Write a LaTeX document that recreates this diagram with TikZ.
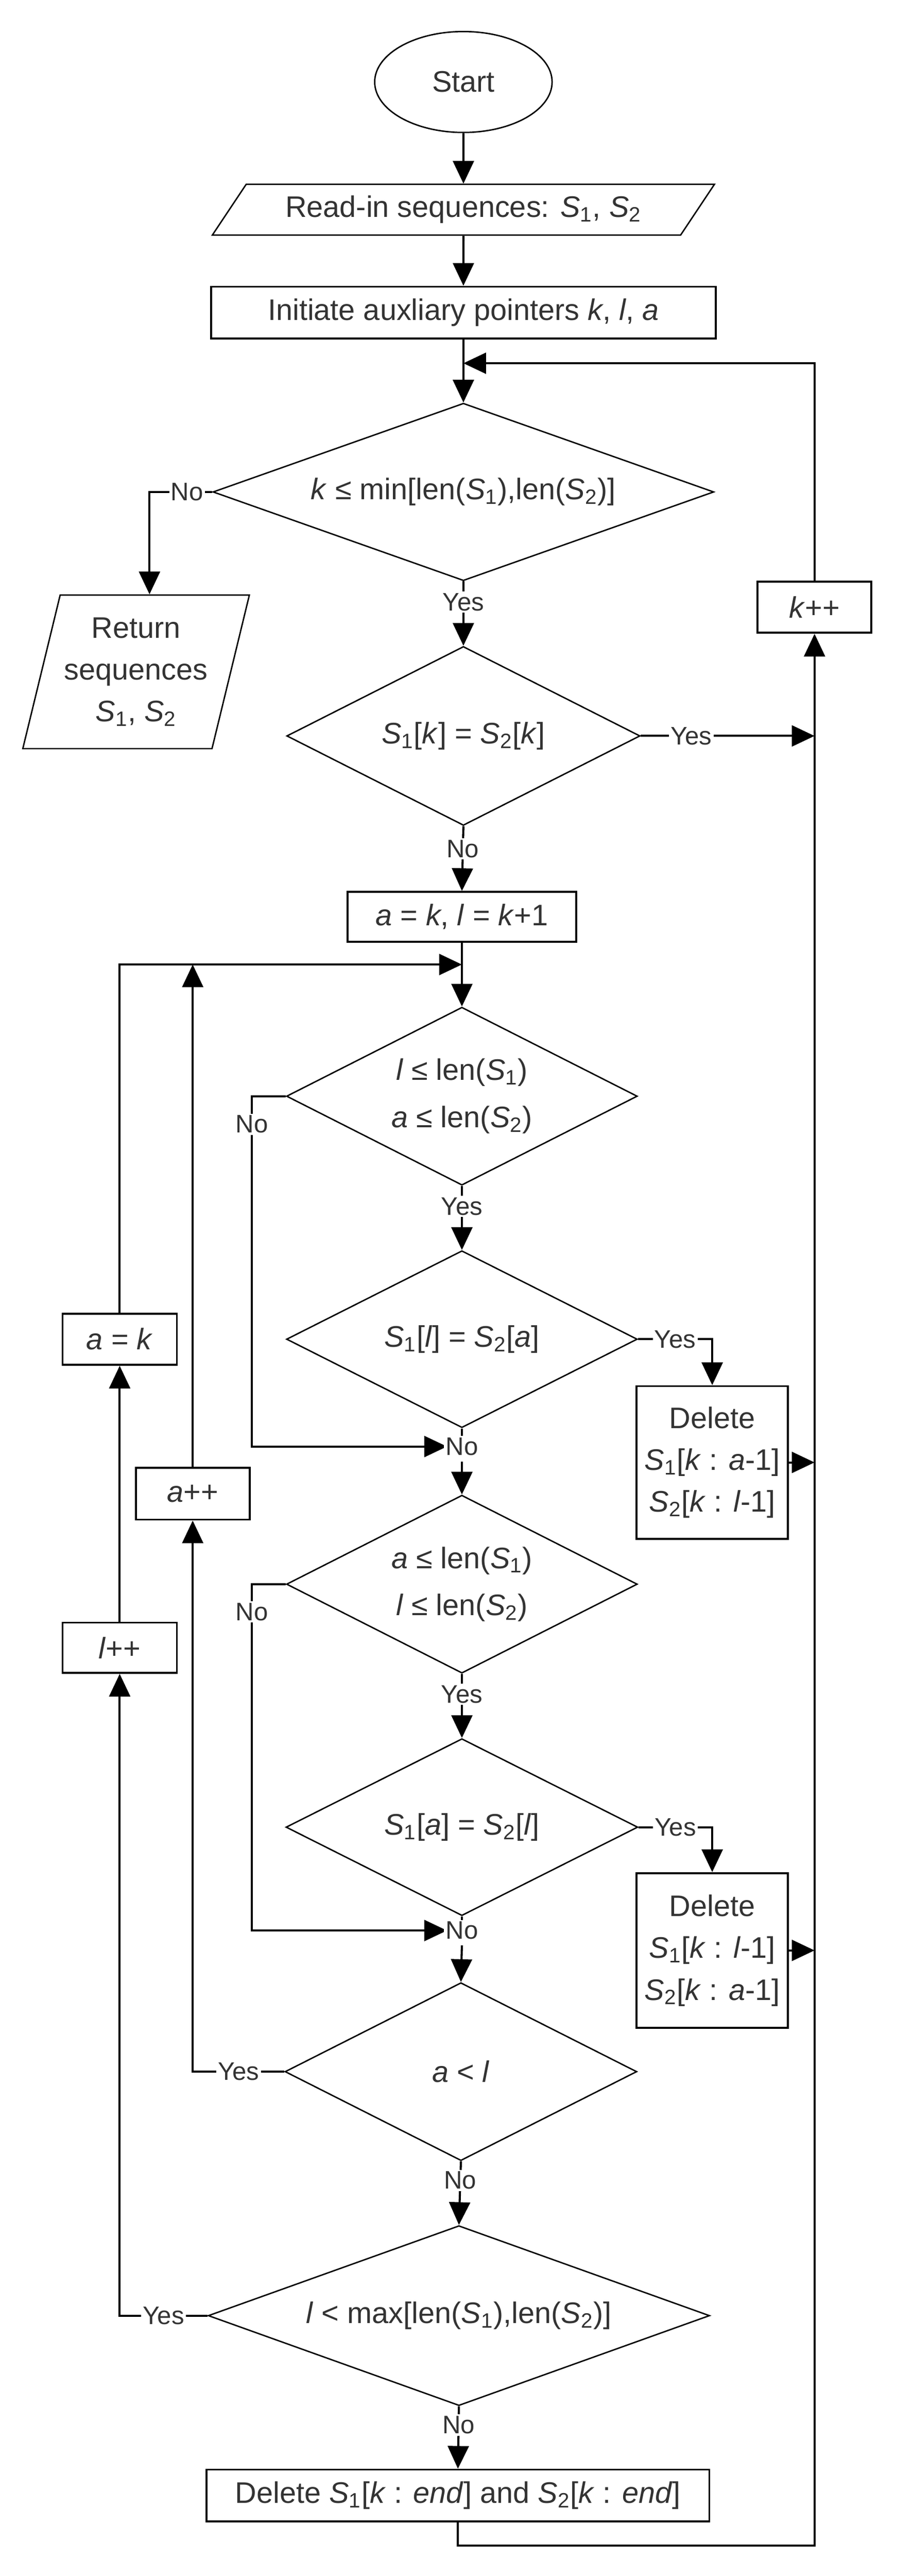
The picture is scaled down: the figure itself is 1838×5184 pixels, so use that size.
\documentclass[tikz,border=0pt]{standalone}
\usepackage{fontspec}
\setmainfont{Liberation Sans}
\usetikzlibrary{shapes.geometric,arrows.meta}
\newcommand\Sv[1]{\textit{S}\textsubscript{#1}}
\newcommand\vv[1]{\textit{#1}}
\begin{document}
\begin{tikzpicture}[x=0.01cm,y=-0.01cm,
  txt/.style={text=black!80,font=\fontsize{17}{24}\selectfont,align=center},
  box/.style={txt,draw,line width=1.1pt,inner sep=0pt},
  dia/.style={txt,diamond,draw,line width=0.8pt,inner sep=0pt,aspect=2.8},
  io/.style={txt,trapezium,draw,line width=0.8pt,inner sep=0pt,trapezium stretches=true},
  lbl/.style={fill=white,text=black!80,font=\fontsize{14.5}{16}\selectfont,inner sep=1pt},
  ln/.style={line width=1.2pt},
  arr/.style={ln,-{Triangle[length=13pt,width=12pt]}}]
\useasboundingbox (0,0) rectangle (1838,5184);

% nodes
\node[txt,ellipse,draw,line width=0.8pt,minimum width=3.57cm,minimum height=2.03cm,inner sep=0pt] (start) at (933,165) {Start};
\node[io,trapezium left angle=45,trapezium right angle=135,minimum width=10.11cm,minimum height=1.02cm] (read) at (933,422) {Read-in sequences: \Sv{1}, \Sv{2}};
\node[box,minimum width=10.16cm,minimum height=1.04cm] (init) at (933,629) {Initiate auxliary pointers \vv{k}, \vv{l}, \vv{a}};
\node[dia,minimum width=10.08cm,minimum height=3.57cm] (d1) at (933,990) {\vv{k} ≤ min[len(\Sv{1}),len(\Sv{2})]};
\node[io,trapezium left angle=72,trapezium right angle=108,minimum width=4.56cm,minimum height=3.09cm] (ret) at (274,1352) {Return\\sequences\\\Sv{1}, \Sv{2}};
\node[dia,minimum width=7.11cm,minimum height=3.6cm] (d2) at (933,1481) {\Sv{1}[\vv{k}] = \Sv{2}[\vv{k}]};
\node[box,minimum width=2.29cm,minimum height=1.03cm] (kpp) at (1640,1222) {\vv{k}++};
\node[box,minimum width=4.6cm,minimum height=1cm] (ak1) at (930,1845) {\vv{a} = \vv{k}, \vv{l} = \vv{k}+1};
\node[dia,minimum width=7.06cm,minimum height=3.58cm,font=\fontsize{17}{27}\selectfont] (d3) at (930,2206) {\vv{l} ≤ len(\Sv{1})\\\vv{a} ≤ len(\Sv{2})};
\node[dia,minimum width=7.06cm,minimum height=3.56cm] (d4) at (930,2695) {\Sv{1}[\vv{l}] = \Sv{2}[\vv{a}]};
\node[box,minimum width=3.05cm,minimum height=3.07cm] (del1) at (1434,2943) {Delete\\\Sv{1}[\vv{k} : \vv{a}-1]\\\Sv{2}[\vv{k} : \vv{l}-1]};
\node[box,minimum width=2.3cm,minimum height=1.03cm] (ak) at (241,2695) {\vv{a} = \vv{k}};
\node[box,minimum width=2.29cm,minimum height=1.04cm] (app) at (388,3006) {\vv{a}++};
\node[box,minimum width=2.3cm,minimum height=1.01cm] (lpp) at (241,3316) {\vv{l}++};
\node[dia,minimum width=7.06cm,minimum height=3.58cm,font=\fontsize{17}{27}\selectfont] (d5) at (930,3188) {\vv{a} ≤ len(\Sv{1})\\\vv{l} ≤ len(\Sv{2})};
\node[dia,minimum width=7.08cm,minimum height=3.56cm] (d6) at (930,3677) {\Sv{1}[\vv{a}] = \Sv{2}[\vv{l}]};
\node[box,minimum width=3.05cm,minimum height=3.11cm] (del2) at (1434,3925) {Delete\\\Sv{1}[\vv{k} : \vv{l}-1]\\\Sv{2}[\vv{k} : \vv{a}-1]};
\node[dia,minimum width=7.08cm,minimum height=3.58cm] (d7) at (928,4169) {\vv{a} < \vv{l}};
\node[dia,minimum width=10.09cm,minimum height=3.62cm] (d8) at (924,4660) {\vv{l} < max[len(\Sv{1}),len(\Sv{2})]};
\node[box,minimum width=10.12cm,minimum height=1.04cm] (fin) at (922,5022) {Delete \Sv{1}[\vv{k} : \vv{end}] and \Sv{2}[\vv{k} : \vv{end}]};

% junction points
\coordinate (m1) at (933,731);
\coordinate (cNo) at (301,990);
\coordinate (m2) at (930,1941);
\coordinate (m3) at (930,2911);
\coordinate (m4) at (930,3885);
\coordinate (n3) at (507,2206);
\coordinate (n5) at (507,3188);
\coordinate (bot) at (922,5123);

% connectors
\draw[arr] (start) -- (read);
\draw[arr] (read) -- (init);
\draw[arr] (init) -- (d1);
\draw[arr] (kpp.north) |- (m1);
\draw[arr] (d1.west) -- node[lbl,pos=0.4]{No} (cNo) -- (cNo |- ret.north);
\draw[arr] (d1.south) -- node[lbl,pos=0.32]{Yes} (d2.north);
\draw[arr] (d2.east) -- node[lbl,pos=0.29]{Yes} (d2.east -| kpp.south);
\draw[arr] (fin.south) -- (bot) -| (kpp.south);
\draw[arr] (d2.south) -- node[lbl,pos=0.35]{No} (ak1.north);
\draw[arr] (ak1.south) -- (d3.north);
\draw[arr] (ak.north) |- (m2);
\draw[arr] (app.north) -- (app.north |- m2);
\draw[arr] (d3.south) -- node[lbl,pos=0.32]{Yes} (d4.north);
\draw[arr] (d3.west) -- (n3) -- node[lbl,pos=0.08]{No} (n3 |- m3) -- ([xshift=-0.3cm]m3);
\draw[ln] (d4.south) -- (m3) node[lbl]{No};
\draw[arr] ([yshift=-0.3cm]m3) -- (d5.north);
\draw[arr] (d4.east) -| node[lbl,pos=0.25]{Yes} (del1.north);
\draw[arr] (del1.east) -- (del1.east -| kpp.south);
\draw[arr] (d5.south) -- node[lbl,pos=0.32]{Yes} (d6.north);
\draw[arr] (d5.west) -- (n5) -- node[lbl,pos=0.08]{No} (n5 |- m4) -- ([xshift=-0.3cm]m4);
\draw[ln] (d6.south) -- (m4) node[lbl]{No};
\draw[arr] ([yshift=-0.3cm]m4) -- (d7.north);
\draw[arr] (d6.east) -| node[lbl,pos=0.25]{Yes} (del2.north);
\draw[arr] (del2.east) -- (del2.east -| kpp.south);
\draw[arr] (d7.west) -| node[lbl,pos=0.25]{Yes} (app.south);
\draw[arr] (d7.south) -- node[lbl,pos=0.3]{No} (d8.north);
\draw[arr] (d8.west) -| node[lbl,pos=0.25]{Yes} (lpp.south);
\draw[arr] (lpp.north) -- (ak.south);
\draw[arr] (d8.south) -- node[lbl,pos=0.3]{No} (fin.north);
\end{tikzpicture}
\end{document}
